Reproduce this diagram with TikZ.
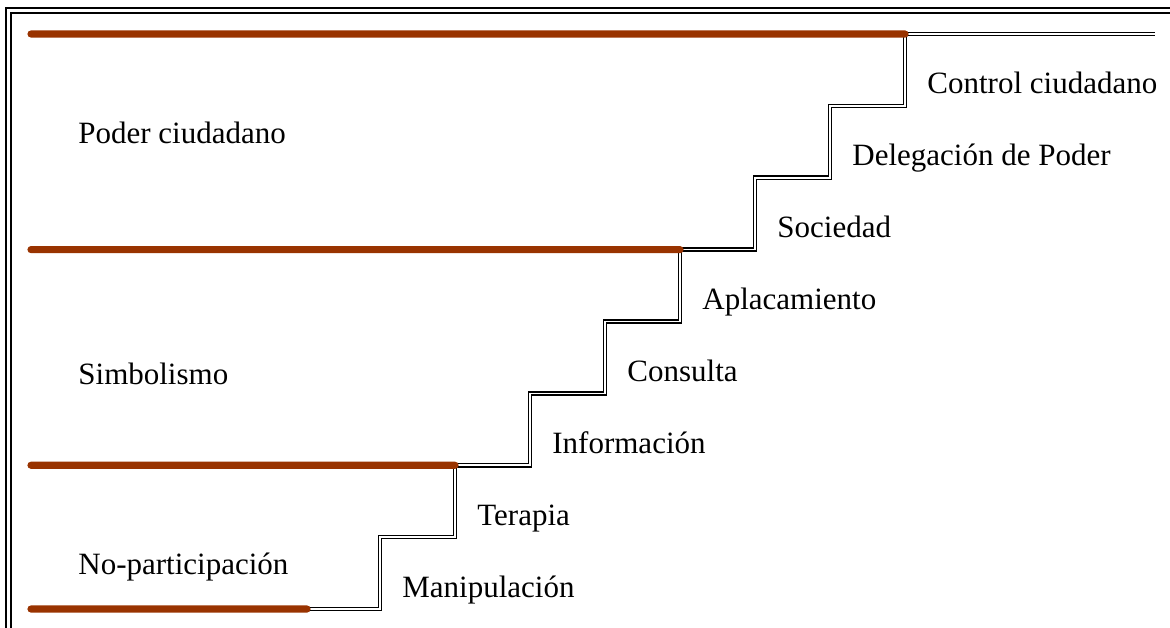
\documentclass[tikz,border=0pt]{standalone}
\usepackage{fontspec}
\setmainfont{Liberation Serif}
\usetikzlibrary{calc}
\definecolor{ladder}{RGB}{153,51,0}

\begin{document}
\begin{tikzpicture}[x=0.5pt,y=-0.5pt,
  level/.style={line width=3.6pt,color=ladder,line cap=round},
  stair/.style={double,line width=0.75pt,double distance=0.8pt},
  rung/.style={font=\fontsize{15.5}{18}\selectfont,anchor=base west,inner sep=0pt}]
\useasboundingbox (0,0) rectangle (1170,627);
% frame
\draw[line width=1.2pt] (6,8) rectangle (1200,660);
\draw[line width=0.6pt] (11,13) rectangle (1200,660);
% steps
\coordinate (s) at (307,609);
\coordinate (e) at (1155,34);
\foreach \k in {0,...,7}
	\coordinate (c\k) at ({380+75*\k},{609-71.875*(\k+1)});
\draw[stair](s)-|(c0)-|(c1)-|(c2)-|(c3)-|(c4)-|(c5)-|(c6)-|(c7)--(e);
\foreach \k/\t in {0/Manipulación,1/Terapia,2/Información,3/Consulta,4/Aplacamiento,5/Sociedad,6/Delegación de Poder,7/Control ciudadano}
	\node[rung](r\k) at ({402+75*\k},{597-71.875*\k}){\t};
% levels
\coordinate (l1) at (31,34);
\coordinate (l2) at (31,249.6);
\coordinate (l3) at (31,465.25);
\coordinate (l4) at (31,609);
\draw[level](l1)--(c7) (l2)--(c4) (l3)--(c1) (l4)--(s);
\node[rung](poder) at (78,143){Poder ciudadano};
\node[rung](simb) at (78,384){Simbolismo};
\node[rung](nopart) at (78,574){No-participación};
\end{tikzpicture}
\end{document}
